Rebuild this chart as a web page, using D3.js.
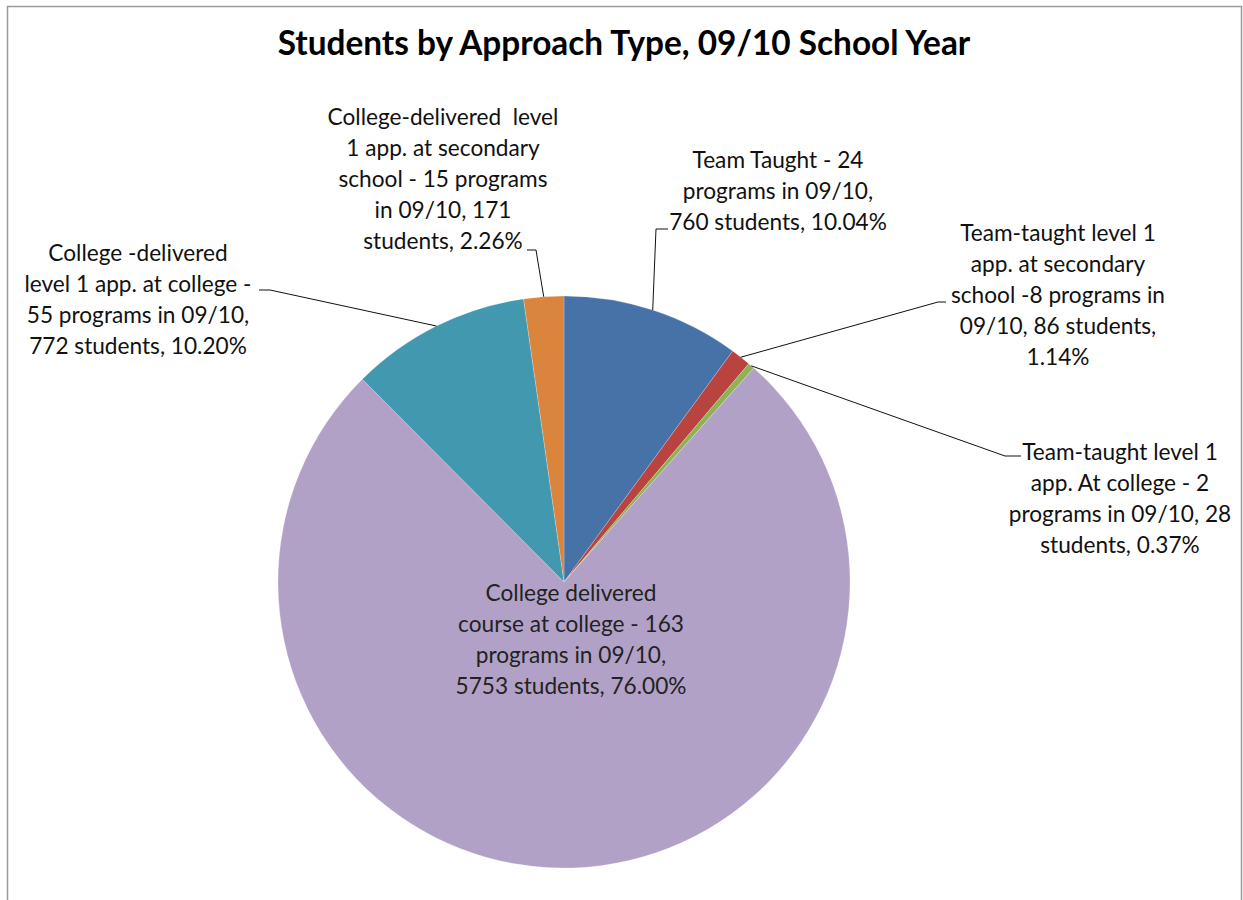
<!DOCTYPE html>
<html lang="en">
<head>
    <meta charset="UTF-8">
    <title>Students by Approach Type, 09/10 School Year</title>
    <script src="https://d3js.org/d3.v7.min.js"></script>
    <style>
        body {
            margin: 0;
            background: #fff;
        }

        svg text {
            font-family: Lato, "Open Sans", sans-serif;
        }
    </style>
</head>
<body>
    <svg id="chart" width="1243" height="900"></svg>
    <script>
        // chart data
        const categories = [
            "Team Taught",
            "Team-taught level 1 app. at secondary school",
            "Team-taught level 1 app. At college",
            "College delivered course at college",
            "College -delivered level 1 app. at college",
            "College-delivered level 1 app. at secondary school"
        ];
        const students = [760, 86, 28, 5753, 772, 171];
        const programs = [24, 8, 2, 163, 55, 15];
        const percents = ["10.04%", "1.14%", "0.37%", "76.00%", "10.20%", "2.26%"];
        const colors = ["#4672A8", "#B8433F", "#8FB255", "#B1A1C7", "#4198AF", "#DB843D"];

        // label text, wrapped the way the original chart wraps it
        const labelLines = [
            ["Team Taught - 24", "programs in 09/10,", "760 students, 10.04%"],
            ["Team-taught level 1", "app. at secondary", "school -8 programs in", "09/10, 86 students,", "1.14%"],
            ["Team-taught level 1", "app. At college - 2", "programs in 09/10, 28", "students, 0.37%"],
            ["College delivered", "course at college - 163", "programs in 09/10,", "5753 students, 76.00%"],
            ["College -delivered", "level 1 app. at college -", "55 programs in 09/10,", "772 students, 10.20%"],
            ["College-delivered  level", "1 app. at secondary", "school - 15 programs", "in 09/10, 171", "students, 2.26%"]
        ];

        // label layout: centre x, first line y, and leader tick (null = inside slice)
        const labelPos = [
            { x: 778, y: 160, tick: [[668, 229], [656, 229]] },
            { x: 1058, y: 233, tick: [[946, 302], [938, 302]] },
            { x: 1120, y: 452, tick: [[1021, 456], [1005, 456]] },
            { x: 571, y: 593, tick: null },
            { x: 138, y: 253, tick: [[259, 290], [270, 290]] },
            { x: 443, y: 117, tick: [[527, 250], [536, 250]] }
        ];

        const width = 1243;
        const height = 900;
        const cx = 564;
        const cy = 582;
        const radius = 286;
        const lineGap = 31;

        const svg = d3.select('#chart');

        // outer frame
        svg.append('rect')
            .attr('x', 7.5)
            .attr('y', 6.5)
            .attr('width', width - 9)
            .attr('height', height)
            .attr('fill', '#fff')
            .attr('stroke', '#999')
            .attr('stroke-width', 1.5);

        // title, sized to the original's width
        const title = svg.append('text')
            .attr('x', 624)
            .attr('y', 55)
            .attr('text-anchor', 'middle')
            .attr('font-weight', 'bold')
            .attr('font-size', 32)
            .attr('fill', '#000')
            .text('Students by Approach Type, 09/10 School Year');
        const tw = title.node().getComputedTextLength();
        title.attr('font-size', 32 * 693 / tw);

        const pie = d3.pie()
            .sort(null)
            .value(d => d);

        const arcs = pie(students);

        const arc = d3.arc()
            .innerRadius(0)
            .outerRadius(radius);

        const g = svg.append('g')
            .attr('transform', `translate(${cx},${cy})`);

        g.selectAll('path')
            .data(arcs)
            .enter().append('path')
            .attr('d', arc)
            .attr('fill', (d, i) => colors[i])
            .attr('stroke', 'rgba(255,255,255,0.35)')
            .attr('stroke-width', 0.6);

        // leader lines from label tick to slice mid-point on the rim
        arcs.forEach((d, i) => {
            const p = labelPos[i];
            if (!p.tick) return;
            const mid = (d.startAngle + d.endAngle) / 2;
            const rim = [cx + radius * Math.sin(mid), cy - radius * Math.cos(mid)];
            svg.append('path')
                .datum([p.tick[0], p.tick[1], rim])
                .attr('d', d3.line())
                .attr('fill', 'none')
                .attr('stroke', '#111')
                .attr('stroke-width', 1);
        });

        // work out a label font size so the longest purple line matches the original (231px)
        const probe = svg.append('text')
            .attr('font-size', 22)
            .text(labelLines[3][3]);
        const labelSize = 22 * 231 / probe.node().getComputedTextLength();
        probe.remove();

        labelLines.forEach((lines, i) => {
            const p = labelPos[i];
            const t = svg.append('text')
                .attr('text-anchor', 'middle')
                .attr('font-size', labelSize)
                .attr('fill', i === 3 ? '#222' : '#111');
            lines.forEach((line, j) => {
                t.append('tspan')
                    .attr('x', p.x)
                    .attr('y', p.y + j * lineGap)
                    .attr('dy', '0.35em')
                    .attr('xml:space', 'preserve')
                    .text(line);
            });
        });
    </script>
</body>
</html>
